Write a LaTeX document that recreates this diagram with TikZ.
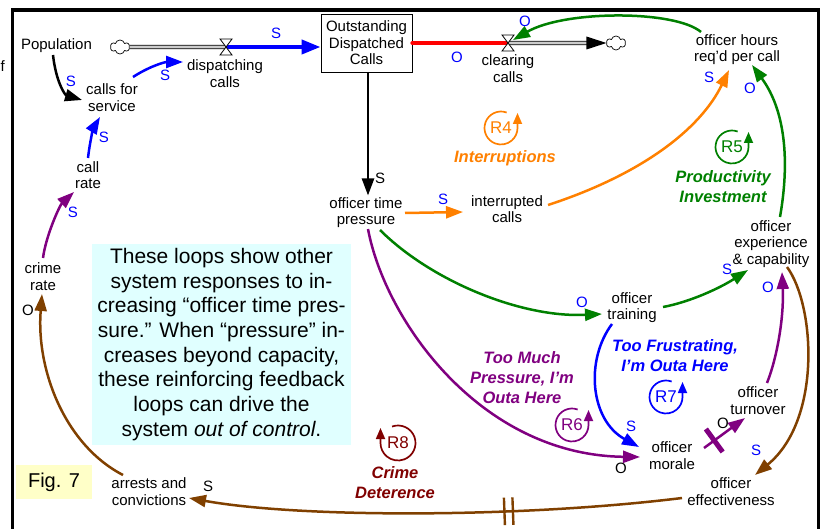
\documentclass[tikz,border=0pt]{standalone}
\usepackage{fontspec}
\setmainfont{Liberation Sans}
\usetikzlibrary{arrows.meta,shapes.symbols}
\definecolor{cblue}{RGB}{0,0,255}
\definecolor{cgreen}{RGB}{0,128,0}
\definecolor{corange}{RGB}{255,128,0}
\definecolor{cpurple}{RGB}{128,0,128}
\definecolor{cbrown}{RGB}{128,64,0}
\definecolor{cdred}{RGB}{128,0,0}
\definecolor{ccyan}{RGB}{224,255,255}
\definecolor{cyell}{RGB}{255,255,200}
\begin{document}
\begin{tikzpicture}[x=1pt,y=-1pt,
  var/.style={font=\fontsize{15}{16.5}\selectfont, align=center, inner sep=1pt},
  pol/.style={font=\fontsize{15}{15}\selectfont, text=cblue, inner sep=0pt},
  polk/.style={pol, text=black},
  conn/.style={line width=2.5pt, -{Triangle[length=17pt,width=12pt]}},
  pipe/.style={double=gray!40, double distance=2.6pt, line width=0.9pt},
  cloudsty/.style={cloud, cloud puffs=6, draw, fill=white, line width=0.7pt, minimum width=19pt, minimum height=14pt, inner sep=0pt},
  valvesty/.style={fill=white, line width=0.8pt},
  loopname/.style={font=\fontsize{17}{17}\selectfont, inner sep=0pt},
  looparc/.style={line width=1.7pt, -{Triangle[length=11pt,width=9pt]}},
  loopttl/.style={font=\fontsize{16.5}{20}\selectfont\bfseries\itshape, align=center, inner sep=0pt},
]
\useasboundingbox (0,0) rectangle (824,529);
% frame
\draw[line width=3.2pt] (12.7,529) -- (12.7,10) -- (818.5,10) -- (818.5,529);
\node[font=\fontsize{15}{15}\selectfont, anchor=east, inner sep=0pt] (fcut) at (5,66) {f};

% note boxes
\node[fill=ccyan, minimum width=259pt, minimum height=201pt, align=center, font=\fontsize{21}{24.7}\selectfont, inner sep=0pt] (note) at (221.5,344.5) {These loops show other\\system responses to in-\\creasing “officer time pres-\\sure.” When “pressure” in-\\creases beyond capacity,\\these reinforcing feedback\\loops can drive the\\system \textit{out of control}.};
\node[fill=cyell, minimum width=76pt, minimum height=34pt, font=\fontsize{20}{20}\selectfont, inner sep=0pt] (fig) at (54,482) {Fig. 7};

% variables
\node[var] (pop) at (56.5,45.5) {Population};
\node[cloudsty] (cloudA) at (120,47) {};
\coordinate (vD) at (226,47);
\node[var] (dsp) at (225,73.5) {dispatching\\calls};
\node[var, draw, line width=0.9pt, minimum width=91pt, minimum height=58pt] (odc) at (366.5,43) {Outstanding\\Dispatched\\Calls};
\coordinate (vC) at (508,43);
\node[var] (clr) at (508,68.5) {clearing\\calls};
\node[cloudsty] (cloudB) at (616,43) {};
\node[var] (ohr) at (737,49.5) {officer hours\\req'd per call};
\node[var] (otp) at (366,212.5) {officer time\\pressure};
\node[var] (ic) at (507,209) {interrupted\\calls};
\node[var] (oec) at (771,244) {officer\\experience\\\& capability};
\node[var] (otr) at (632,307.5) {officer\\training};
\node[var] (omo) at (672,455.5) {officer\\morale};
\node[var] (otu) at (758,400.5) {officer\\turnover};
\node[var] (oef) at (731,491.5) {officer\\effectiveness};
\node[var] (arr) at (149,491.5) {arrests and\\convictions};
\node[var] (cr) at (43,276.5) {crime\\rate};
\node[var] (cll) at (88,175) {call\\rate};
\node[var] (cfs) at (112,97.5) {calls for\\service};

% stock and flows
\draw[pipe] (cloudA.east) -- (vD);
\draw[line width=4pt, cblue, -{Triangle[length=19pt,width=14pt]}] (vD) -- (vD -| odc.west);
\draw[line width=4.2pt, red, line cap=round] (odc.east) -- (vC);
\draw[pipe] (vC) -- ([xshift=-19pt]cloudB.west);
\fill ([shift={(-20,-6.5)}]cloudB.west) -- (cloudB.west) -- ([shift={(-20,6.5)}]cloudB.west) -- cycle;
\foreach \v in {vD,vC}
  \draw[valvesty] ([shift={(-6,-8)}]\v) -- ([shift={(6,-8)}]\v) -- ([shift={(-6,8)}]\v) -- ([shift={(6,8)}]\v) -- cycle;

% connectors
\draw[conn] ([shift={(-3.5,9.5)}]pop.center) .. controls (56,82) and (65,95) .. ([shift={(-30,2.5)}]cfs.center);
\draw[conn, cblue] ([shift={(21,-20.5)}]cfs.center) .. controls (150,66) and (165,62) .. ([shift={(-42,-11.5)}]dsp.center);
\draw[conn, cblue] ([shift={(0,-17)}]cll.center) .. controls (90,140) and (94,127) .. ([shift={(-12,19.5)}]cfs.center);
\draw[conn, cpurple] ([shift={(0,-18.5)}]cr.center) .. controls (46,235) and (60,205) .. ([shift={(-14,17)}]cll.center);
\draw[conn, cbrown] ([shift={(-26,-16.5)}]arr.center) .. controls (65,445) and (36,370) .. ([shift={(-1,17.5)}]cr.center);
\draw[conn, cbrown] ([shift={(-49,6.5)}]oef.center) .. controls (520,518) and (300,518) .. ([shift={(40,6.5)}]arr.center)
  node[pos=0.33, sloped, inner sep=0pt, minimum height=25pt, minimum width=6pt] (bm) {};
\draw[cbrown, line width=2.4pt] (bm.north west) -- (bm.south west) (bm.north east) -- (bm.south east);
\draw[conn, cbrown] ([shift={(16,23)}]oec.center) .. controls (815,305) and (822,420) .. ([shift={(24,-16.5)}]oef.center);
\draw[conn, cpurple] ([shift={(9,-17.5)}]otu.center) .. controls (778,355) and (784,315) .. ([shift={(11,28)}]oec.center);
\draw[conn, cpurple] ([shift={(32,-7.5)}]omo.center) -- ([shift={(-13,17.5)}]otu.center)
  node[pos=0.25, sloped, inner sep=0pt, minimum height=26pt, minimum width=0pt] (pm) {};
\draw[cpurple, line width=5pt] (pm.north) -- (pm.south);
\draw[conn, cpurple] ([shift={(2,16.5)}]otp.center) .. controls (385,320) and (480,455) .. ([shift={(-32,1.5)}]omo.center);
\draw[conn, cblue] ([shift={(-20,16.5)}]otr.center) .. controls (585,360) and (590,420) .. ([shift={(-33,-8.5)}]omo.center);
\draw[conn, cgreen] ([shift={(31,-0.5)}]otr.center) .. controls (690,302) and (720,288) .. ([shift={(-23,26)}]oec.center);
\draw[conn, cgreen] ([shift={(14,17.5)}]otp.center) .. controls (430,280) and (520,318) .. ([shift={(-30,6.5)}]otr.center);
\draw[conn, corange] ([shift={(39,0.5)}]otp.center) -- ([shift={(-44,3)}]ic.center);
\draw[conn, corange] ([shift={(41,-4)}]ic.center) .. controls (640,175) and (700,130) .. ([shift={(-8,20.5)}]ohr.center);
\draw[conn, cgreen] ([shift={(9,-27)}]oec.center) .. controls (790,160) and (785,110) .. ([shift={(15,15.5)}]ohr.center);
\draw[conn, cgreen] ([shift={(-36,-17.5)}]ohr.center) .. controls (675,10) and (565,10) .. ([shift={(5,-3)}]vC);
\draw[conn] ([shift={(1.5,29)}]odc.center) -- ([shift={(2,-17)}]otp.center);

% polarity labels
\node[pol] (p1) at (276,33) {S};
\node[pol] (p2) at (71,81) {S};
\node[pol] (p3) at (165,75) {S};
\node[pol] (p4) at (104,137) {S};
\node[pol] (p5) at (73,212) {S};
\node[pol] (p6) at (709,77) {S};
\node[pol] (p7) at (443,199) {S};
\node[pol] (p8) at (727,269) {S};
\node[pol] (p9) at (631,426) {S};
\node[pol] (p10) at (756,450) {S};
\node[pol] (p11) at (457,57) {O};
\node[pol] (p12) at (525,21) {O};
\node[pol] (p13) at (750,88) {O};
\node[pol] (p14) at (582,302) {O};
\node[pol] (p15) at (768,287) {O};
\node[polk] (p16) at (380,178) {S};
\node[polk] (p17) at (208,486) {S};
\node[polk] (p18) at (28,310) {O};
\node[polk] (p19) at (621,468) {O};
\node[polk] (p20) at (723,423) {O};

% loops
\node[loopname, text=corange] (r4) at (501,128) {R4};
\draw[looparc, corange] ([shift={(-70:16.5)}]r4.center) arc[start angle=-70, end angle=-360, radius=16.5] -- ++(0,-15);
\node[loopname, text=cgreen] (r5) at (732,147) {R5};
\draw[looparc, cgreen] ([shift={(-70:16.5)}]r5.center) arc[start angle=-70, end angle=-360, radius=16.5] -- ++(0,-15);
\node[loopname, text=cpurple] (r6) at (572,425) {R6};
\draw[looparc, cpurple] ([shift={(-70:16.5)}]r6.center) arc[start angle=-70, end angle=-360, radius=16.5] -- ++(0,-15);
\node[loopname, text=cblue] (r7) at (666,397) {R7};
\draw[looparc, cblue] ([shift={(-70:16.5)}]r7.center) arc[start angle=-70, end angle=-360, radius=16.5] -- ++(0,-15);
\node[loopname, text=cdred] (r8) at (398,443) {R8};
\draw[looparc, cdred] ([shift={(-110:17.5)}]r8.center) arc[start angle=-110, end angle=180, radius=17.5] -- ++(0,-15);

\node[loopttl, text=corange] (t4) at (505,158) {Interruptions};
\node[loopttl, text=cgreen] (t5) at (723,186.5) {Productivity\\Investment};
\node[loopttl, text=cpurple] (t6) at (522,377.5) {Too Much\\Pressure, I'm\\Outa Here};
\node[loopttl, text=cblue] (t7) at (675,355.5) {Too Frustrating,\\I'm Outa Here};
\node[loopttl, text=cdred] (t8) at (395,483) {Crime\\Deterence};
\end{tikzpicture}
\end{document}
